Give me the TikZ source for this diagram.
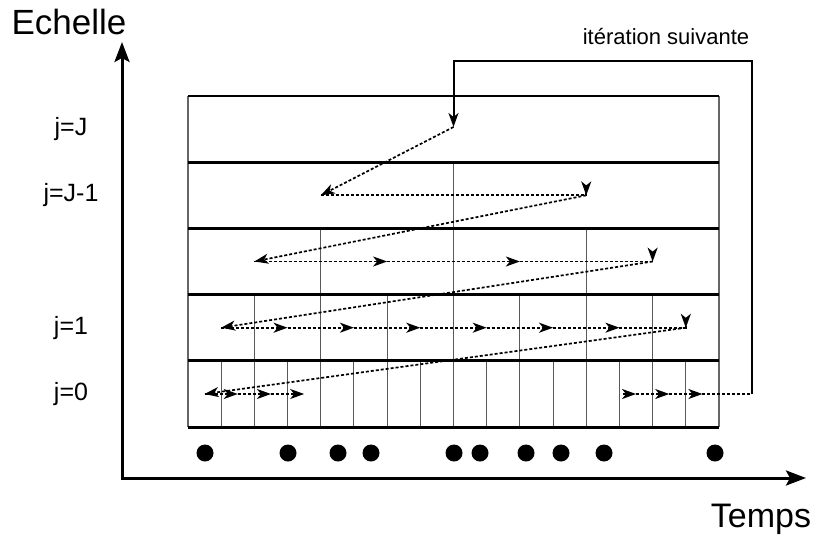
\documentclass[tikz,border=0pt]{standalone}
\usepackage{fontspec}
\setmainfont{Liberation Sans}
\usetikzlibrary{arrows.meta}

\tikzset{
  axis/.style={line width=3pt, {Stealth[length=20pt,width=15pt,inset=4pt]}-{Stealth[length=20pt,width=15pt,inset=4pt]}},
  sep/.style={line width=3pt},
  cell/.style={line width=1pt, color=black!65},
  walk/.style={line width=1.7pt, dash pattern=on 3pt off 2pt},
  tip/.style={-{Stealth[length=14pt,width=10pt,inset=4pt]}},
  loopline/.style={line width=2pt},
}

\begin{document}
\begin{tikzpicture}[x=1pt,y=-1pt]
			\useasboundingbox (0,0) rectangle (816,543);
			%%%%% START %%%%%
			
			% axes
			\coordinate (o) at (122,478);
			\coordinate (ytop) at (122,42);
			\coordinate (xend) at (806,478);
			\draw[axis] (ytop) -- (o) -- (xend);
			\node (echelle) at (69,22) {\fontsize{35}{40}\selectfont Echelle};
			\node (temps) at (761,519) {\fontsize{34}{40}\selectfont Temps};
			
			% cells, one row per scale
			\foreach \k in {1,...,15} \draw[cell] ({188+\k*33.1875},360.8) -- ++(0,66.2);
			\foreach \k in {2,4,...,14} \draw[cell] ({188+\k*33.1875},294.6) -- ++(0,66.2);
			\foreach \k in {4,8,12} \draw[cell] ({188+\k*33.1875},228.4) -- ++(0,66.2);
			\draw[cell] (453.5,162.2) -- (453.5,228.4);
			\draw[line width=1.2pt, black!60] (188,96) -- (188,427);
			\draw[line width=1.2pt, black!60] (719,96) -- (719,427);
			\draw[line width=1.5pt] (188,96) -- (719,96);
			\foreach \y in {162.2,228.4,294.6,360.8,427} \draw[sep] (188,\y) -- (719,\y);
			
			\node (lJ) at (71,129) {\fontsize{25}{30}\selectfont j=J};
			\node (lJm) at (71,195) {\fontsize{25}{30}\selectfont j=J-1};
			\node (l1) at (71,328) {\fontsize{25}{30}\selectfont j=1};
			\node (l0) at (71,394) {\fontsize{25}{30}\selectfont j=0};
			
			% centres of the cells
			\foreach \k in {0,...,15} \coordinate (a\k) at ({188+(\k+0.5)*33.1875},394);
			\foreach \k in {0,...,7} \coordinate (b\k) at ({188+(\k+0.5)*66.375},327.7);
			\foreach \k in {0,...,3} \coordinate (c\k) at ({188+(\k+0.5)*132.75},261.5);
			\foreach \k in {0,1} \coordinate (d\k) at ({188+(\k+0.5)*265.5},195.3);
			\coordinate (e0) at (453.5,127);
			
			% walk through the scales
			\draw[walk,tip] (e0) -- (d0);
			\draw[walk,tip] (d0) -- (d1) -- ++(0,0.1);
			\draw[walk,tip] (d1) -- (c0);
			\draw[walk,tip] (c0) -- (c1);
			\draw[walk,tip] (c1) -- (c2);
			\draw[walk,tip] (c2) -- (c3) -- ++(0,0.1);
			\draw[walk,tip] (c3) -- (b0);
			\foreach \i/\j in {0/1,1/2,2/3,3/4,4/5,5/6} \draw[walk,tip] (b\i) -- (b\j);
			\draw[walk,tip] (b6) -- (b7) -- ++(0,0.1);
			\draw[walk,tip] (b7) -- (a0);
			\foreach \i/\j in {0/1,1/2,2/3} \draw[walk,tip] (a\i) -- (a\j);
			\coordinate (a12s) at (623,394);
			\draw[walk,tip] (a12s) -- (a13);
			\foreach \i/\j in {13/14,14/15} \draw[walk,tip] (a\i) -- (a\j);
			
			% next iteration
			\coordinate (turn) at (752,394);
			\coordinate (up) at (752,61);
			\coordinate (over) at (453.5,61);
			\draw[walk] (a15) -- (turn);
			\draw[loopline,tip] (turn) -- (up) -- (over) -- (e0);
			\node (iter) at (666,37) {\fontsize{22}{26}\selectfont itération suivante};
			
			% samples
			\foreach \x in {205,288,338,371,454,480,526,561,604,715} \fill (\x,453) circle (8.5);
			
			%%%%% END %%%%%
\end{tikzpicture}
\end{document}
